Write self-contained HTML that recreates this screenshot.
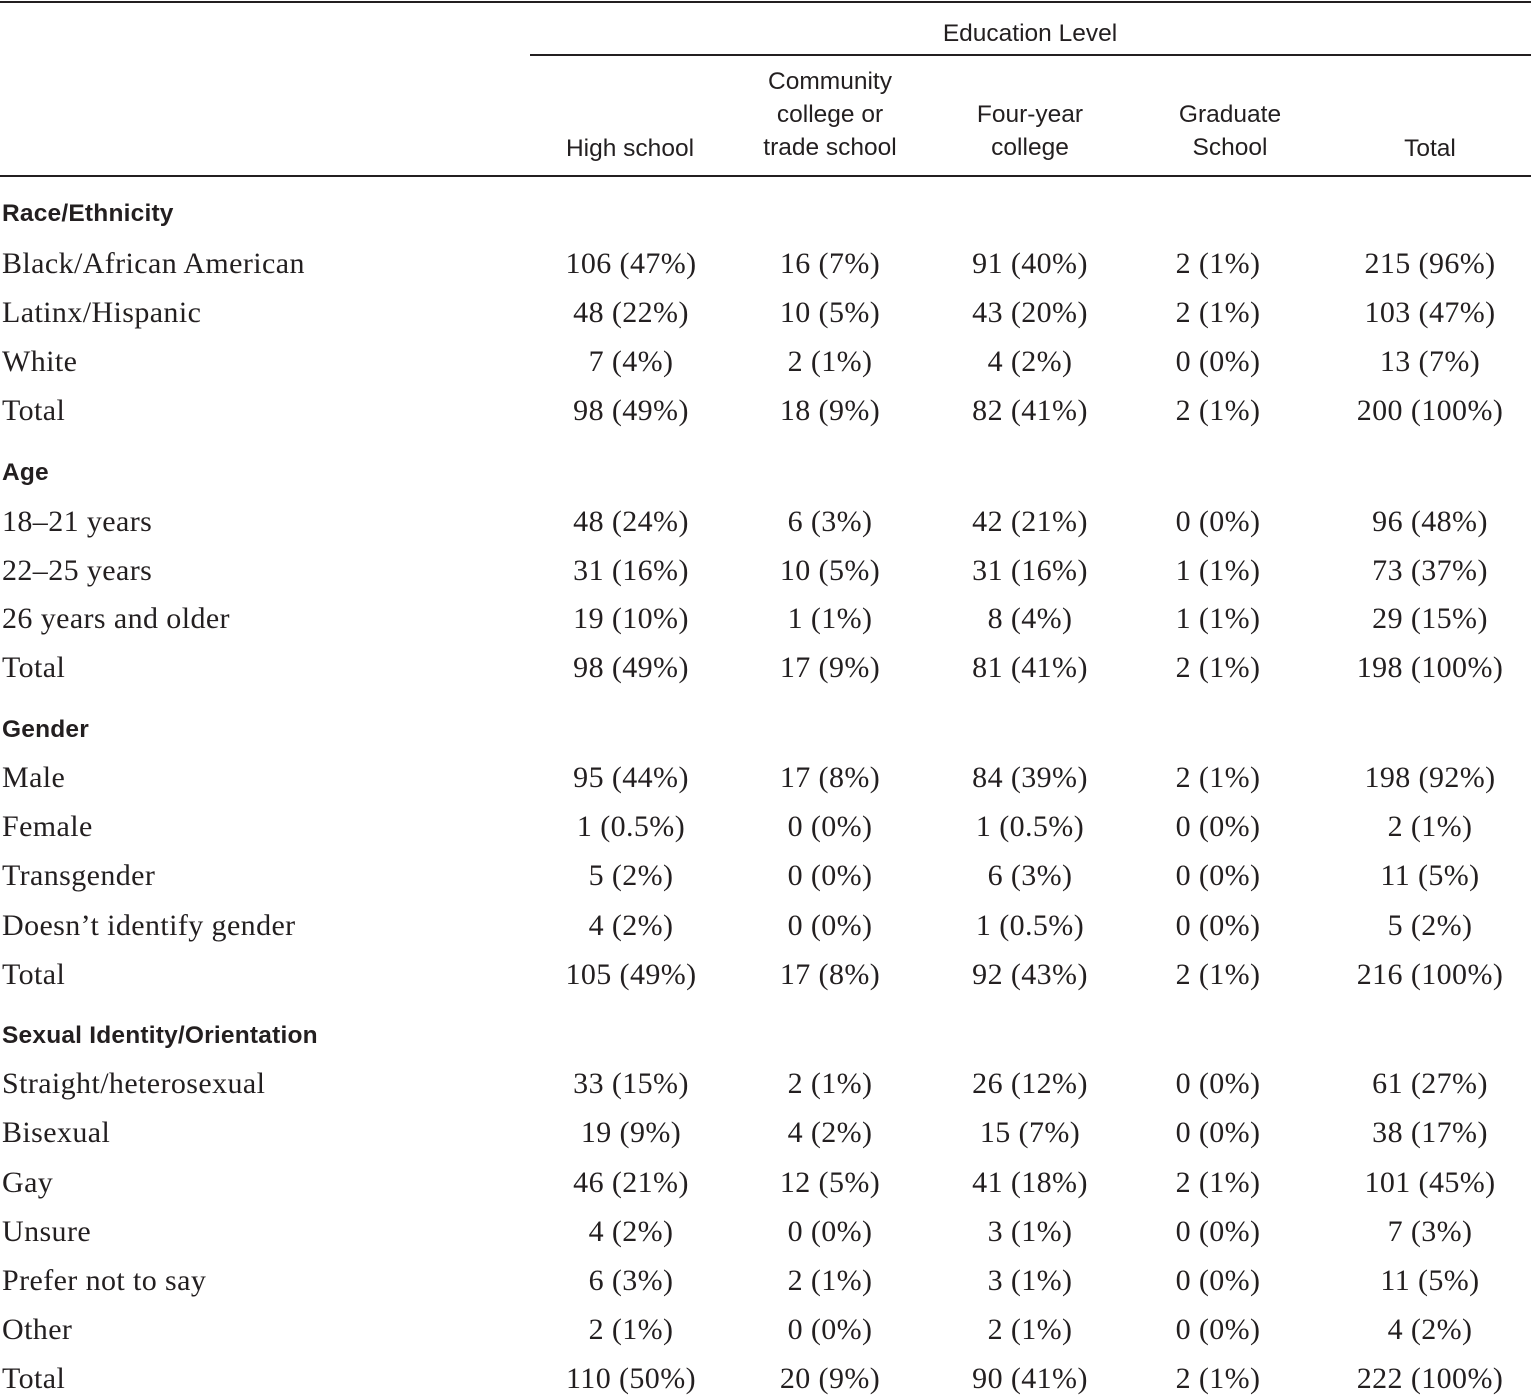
<!DOCTYPE html>
<html><head><meta charset="utf-8">
<style>
html,body{margin:0;padding:0;background:#fff;}
body{width:1531px;height:1396px;position:relative;overflow:hidden;color:#231f20;}
.rule{position:absolute;background:#231f20;}
.h{position:absolute;font-family:"Liberation Sans",sans-serif;font-size:24.5px;line-height:33px;text-align:center;transform:translateX(-50%);white-space:nowrap;letter-spacing:0px;}
.sec{position:absolute;left:2px;font-family:"Liberation Sans",sans-serif;font-weight:900;font-size:24.5px;line-height:36px;letter-spacing:0.2px;}
.r{position:absolute;left:0;width:1531px;height:40px;font-family:"Liberation Serif",serif;font-size:30px;line-height:40px;letter-spacing:0.4px;}
.r span{position:absolute;white-space:nowrap;}
.r span.l{left:2px;}
.r span.c{transform:translateX(-50%);}
.c1{left:631px}.c2{left:830px}.c3{left:1030px}.c4{left:1218px}.c5{left:1430px}
</style></head><body>
<div class="rule" style="left:0;top:1px;width:1531px;height:2px"></div>
<div class="h" style="left:1030px;top:17px">Education Level</div>
<div class="rule" style="left:530px;top:54px;width:1001px;height:2px"></div>
<div class="h" style="left:630px;top:132px">High school</div>
<div class="h" style="left:830px;top:65px">Community<br>college or<br>trade school</div>
<div class="h" style="left:1030px;top:98px">Four-year<br>college</div>
<div class="h" style="left:1230px;top:98px">Graduate<br>School</div>
<div class="h" style="left:1430px;top:132px">Total</div>
<div class="rule" style="left:0;top:175px;width:1531px;height:2px"></div>

<div class="sec" style="top:196px">Race/Ethnicity</div>
<div class="r" style="top:244px"><span class="l">Black/African American</span><span class="c c1">106 (47%)</span><span class="c c2">16 (7%)</span><span class="c c3">91 (40%)</span><span class="c c4">2 (1%)</span><span class="c c5">215 (96%)</span></div>
<div class="r" style="top:293px"><span class="l">Latinx/Hispanic</span><span class="c c1">48 (22%)</span><span class="c c2">10 (5%)</span><span class="c c3">43 (20%)</span><span class="c c4">2 (1%)</span><span class="c c5">103 (47%)</span></div>
<div class="r" style="top:342px"><span class="l">White</span><span class="c c1">7 (4%)</span><span class="c c2">2 (1%)</span><span class="c c3">4 (2%)</span><span class="c c4">0 (0%)</span><span class="c c5">13 (7%)</span></div>
<div class="r" style="top:391px"><span class="l">Total</span><span class="c c1">98 (49%)</span><span class="c c2">18 (9%)</span><span class="c c3">82 (41%)</span><span class="c c4">2 (1%)</span><span class="c c5">200 (100%)</span></div>

<div class="sec" style="top:455px">Age</div>
<div class="r" style="top:502px"><span class="l">18–21 years</span><span class="c c1">48 (24%)</span><span class="c c2">6 (3%)</span><span class="c c3">42 (21%)</span><span class="c c4">0 (0%)</span><span class="c c5">96 (48%)</span></div>
<div class="r" style="top:551px"><span class="l">22–25 years</span><span class="c c1">31 (16%)</span><span class="c c2">10 (5%)</span><span class="c c3">31 (16%)</span><span class="c c4">1 (1%)</span><span class="c c5">73 (37%)</span></div>
<div class="r" style="top:599px"><span class="l">26 years and older</span><span class="c c1">19 (10%)</span><span class="c c2">1 (1%)</span><span class="c c3">8 (4%)</span><span class="c c4">1 (1%)</span><span class="c c5">29 (15%)</span></div>
<div class="r" style="top:648px"><span class="l">Total</span><span class="c c1">98 (49%)</span><span class="c c2">17 (9%)</span><span class="c c3">81 (41%)</span><span class="c c4">2 (1%)</span><span class="c c5">198 (100%)</span></div>

<div class="sec" style="top:712px">Gender</div>
<div class="r" style="top:758px"><span class="l">Male</span><span class="c c1">95 (44%)</span><span class="c c2">17 (8%)</span><span class="c c3">84 (39%)</span><span class="c c4">2 (1%)</span><span class="c c5">198 (92%)</span></div>
<div class="r" style="top:807px"><span class="l">Female</span><span class="c c1">1 (0.5%)</span><span class="c c2">0 (0%)</span><span class="c c3">1 (0.5%)</span><span class="c c4">0 (0%)</span><span class="c c5">2 (1%)</span></div>
<div class="r" style="top:856px"><span class="l">Transgender</span><span class="c c1">5 (2%)</span><span class="c c2">0 (0%)</span><span class="c c3">6 (3%)</span><span class="c c4">0 (0%)</span><span class="c c5">11 (5%)</span></div>
<div class="r" style="top:906px"><span class="l">Doesn’t identify gender</span><span class="c c1">4 (2%)</span><span class="c c2">0 (0%)</span><span class="c c3">1 (0.5%)</span><span class="c c4">0 (0%)</span><span class="c c5">5 (2%)</span></div>
<div class="r" style="top:955px"><span class="l">Total</span><span class="c c1">105 (49%)</span><span class="c c2">17 (8%)</span><span class="c c3">92 (43%)</span><span class="c c4">2 (1%)</span><span class="c c5">216 (100%)</span></div>

<div class="sec" style="top:1018px">Sexual Identity/Orientation</div>
<div class="r" style="top:1064px"><span class="l">Straight/heterosexual</span><span class="c c1">33 (15%)</span><span class="c c2">2 (1%)</span><span class="c c3">26 (12%)</span><span class="c c4">0 (0%)</span><span class="c c5">61 (27%)</span></div>
<div class="r" style="top:1113px"><span class="l">Bisexual</span><span class="c c1">19 (9%)</span><span class="c c2">4 (2%)</span><span class="c c3">15 (7%)</span><span class="c c4">0 (0%)</span><span class="c c5">38 (17%)</span></div>
<div class="r" style="top:1163px"><span class="l">Gay</span><span class="c c1">46 (21%)</span><span class="c c2">12 (5%)</span><span class="c c3">41 (18%)</span><span class="c c4">2 (1%)</span><span class="c c5">101 (45%)</span></div>
<div class="r" style="top:1212px"><span class="l">Unsure</span><span class="c c1">4 (2%)</span><span class="c c2">0 (0%)</span><span class="c c3">3 (1%)</span><span class="c c4">0 (0%)</span><span class="c c5">7 (3%)</span></div>
<div class="r" style="top:1261px"><span class="l">Prefer not to say</span><span class="c c1">6 (3%)</span><span class="c c2">2 (1%)</span><span class="c c3">3 (1%)</span><span class="c c4">0 (0%)</span><span class="c c5">11 (5%)</span></div>
<div class="r" style="top:1310px"><span class="l">Other</span><span class="c c1">2 (1%)</span><span class="c c2">0 (0%)</span><span class="c c3">2 (1%)</span><span class="c c4">0 (0%)</span><span class="c c5">4 (2%)</span></div>
<div class="r" style="top:1359px"><span class="l">Total</span><span class="c c1">110 (50%)</span><span class="c c2">20 (9%)</span><span class="c c3">90 (41%)</span><span class="c c4">2 (1%)</span><span class="c c5">222 (100%)</span></div>
</body></html>
